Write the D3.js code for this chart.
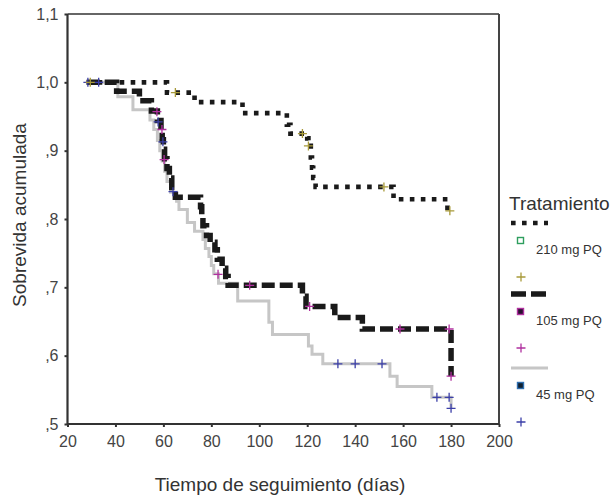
<!DOCTYPE html>
<html><head><meta charset="utf-8">
<script src="https://cdn.jsdelivr.net/npm/d3@7"></script>
<style>
body{margin:0;background:#fff;}
text{font-family:"Liberation Sans",Arial,sans-serif;}
</style></head>
<body><svg id="c" width="615" height="497"></svg>
<script>
// ---- data ----
const groups = ["210 mg PQ", "105 mg PQ", "45 mg PQ"];
const t210 = [28, 61.5, 73, 93, 111.5, 113, 120, 120.5, 121.5, 122, 122.5, 123.5, 156, 178.5, 180];
const s210 = [1.0, 0.985, 0.971, 0.955, 0.938, 0.925, 0.918, 0.907, 0.890, 0.875, 0.860, 0.847, 0.829, 0.812, 0.812];
const t105 = [28, 40.5, 50, 55, 57.5, 59, 59.5, 60, 60.5, 61.5, 62.5, 63.5, 65, 75.5, 76, 76.5, 78, 79.5, 81.5, 82.5, 84.5, 86, 87, 118, 119.5, 131.5, 143, 180];
const s105 = [1.0, 0.987, 0.973, 0.958, 0.944, 0.93, 0.916, 0.902, 0.888, 0.874, 0.86, 0.846, 0.832, 0.818, 0.804, 0.79, 0.776, 0.766, 0.755, 0.741, 0.728, 0.716, 0.703, 0.687, 0.672, 0.656, 0.639, 0.57];
const t45 = [28, 41, 47.3, 54.4, 56, 57.5, 58.5, 59.5, 60.5, 61.5, 63, 65.5, 66.5, 70, 73, 76.5, 77.5, 79, 80, 81, 83, 91, 104, 105.5, 120.5, 122, 126.5, 154.5, 157.5, 172, 180];
const s45 = [1.0, 0.979, 0.96, 0.945, 0.931, 0.915, 0.9, 0.885, 0.87, 0.855, 0.839, 0.826, 0.814, 0.795, 0.782, 0.77, 0.757, 0.745, 0.732, 0.72, 0.706, 0.68, 0.649, 0.631, 0.614, 0.602, 0.588, 0.57, 0.555, 0.539, 0.523];
const cens210 = [[29.5,1.0],[65,0.985],[118,0.925],[120.5,0.907],[152,0.847],[179.5,0.812]];
const cens105 = [[57.3,0.957],[59.4,0.931],[60.3,0.887],[82.8,0.719],[96,0.703],[121,0.672],[158.7,0.639],[179.2,0.639],[180,0.57]];
const cens45 = [[28.5,1.0],[33,1.0],[57.8,0.942],[59.8,0.913],[64,0.84],[132.8,0.588],[140,0.588],[151.2,0.588],[174.1,0.539],[179.2,0.539],[180,0.523]];
const xTicks = [20, 40, 60, 80, 100, 120, 140, 160, 180, 200];
const yTicks = [0.5, 0.6, 0.7, 0.8, 0.9, 1.0, 1.1];
const yTickLabels = [",5", ",6", ",7", ",8", ",9", "1,0", "1,1"];

// ---- layout ----
const svg = d3.select("#c");
const L = 67.5, R = 499, T = 14, B = 424;
const x = d3.scaleLinear().domain([20, 200]).range([L, R]);
const y = d3.scaleLinear().domain([0.5, 1.1]).range([B, T]);

const styles = [
  {stroke:"#1a1a1a", width:4.6, dash:"4.6,6.4", cens:"#a89a3a", sq:"#2e9e5e", sqFill:"none"},
  {stroke:"#1a1a1a", width:5.5, dash:"13,5", cens:"#b0309f", sq:"#b0309f", sqFill:"#2a1030"},
  {stroke:"#c6c6c6", width:3, dash:null, cens:"#3b3fa8", sq:"#2f6fb0", sqFill:"#102030"}
];
const series = [
  {t:t210, s:s210, c:cens210},
  {t:t105, s:s105, c:cens105},
  {t:t45, s:s45, c:cens45}
];

// frame
svg.append("line").attr("x1",L).attr("x2",R).attr("y1",T).attr("y2",T).attr("stroke","#666").attr("stroke-width",2);
svg.append("line").attr("x1",R).attr("x2",R).attr("y1",T).attr("y2",B).attr("stroke","#444").attr("stroke-width",2);

// axes
const xAxis = d3.axisBottom(x).tickValues(xTicks).tickSize(3).tickPadding(9).tickFormat(d3.format("d"));
const gx = svg.append("g").attr("transform",`translate(0,${B})`).call(xAxis);
const yAxis = d3.axisLeft(y).tickValues(yTicks).tickSize(3).tickPadding(6).tickFormat((d,i)=>yTickLabels[i]);
const gy = svg.append("g").attr("transform",`translate(${L},0)`).call(yAxis);
[gx, gy].forEach(g=>{
  g.select(".domain").attr("stroke","#333").attr("stroke-width",2.2);
  g.selectAll(".tick line").attr("stroke","#333").attr("stroke-width",2);
  g.selectAll(".tick text").attr("fill","#444").style("font-size","16px").style("font-family","Liberation Sans, Arial, sans-serif");
});
gx.select(".domain").attr("d", `M${L},0H${R}`);
gy.select(".domain").attr("d", `M0,${B}V${T}`);

// curves (draw gray first, then 105, then 210)
const line = d3.line().x(d=>x(d[0])).y(d=>y(d[1])).curve(d3.curveStepAfter);
[2,1,0].forEach(i=>{
  const sr = series[i], st = styles[i];
  const pts = sr.t.map((t,k)=>[t, sr.s[k]]);
  const p = svg.append("path").attr("d", line(pts)).attr("fill","none")
    .attr("stroke", st.stroke).attr("stroke-width", st.width);
  if (st.dash) p.attr("stroke-dasharray", st.dash);
});

// censor marks
function plus(g, cx, cy, col){
  g.append("path").attr("d",`M${cx-4.5},${cy}H${cx+4.5}M${cx},${cy-4.5}V${cy+4.5}`)
    .attr("stroke",col).attr("stroke-width",1.3).attr("fill","none");
}
[2,1,0].forEach(i=>{
  const g = svg.append("g");
  series[i].c.forEach(d=>plus(g, x(d[0]), y(d[1]), styles[i].cens));
});

// axis titles
svg.append("text").attr("x",280).attr("y",491).attr("text-anchor","middle")
  .attr("fill","#333").style("font-size","19px").text("Tiempo de seguimiento (días)");
svg.append("text").attr("transform","translate(26,215) rotate(-90)").attr("text-anchor","middle")
  .attr("fill","#333").style("font-size","19px").text("Sobrevida acumulada");

// legend
const lg = svg.append("g");
lg.append("text").attr("x",509).attr("y",210).attr("fill","#333").style("font-size","19px").text("Tratamiento");
const legY = [223, 294, 368];
groups.forEach((name,i)=>{
  const st = styles[i], y0 = legY[i];
  const ln = lg.append("line").attr("x1",511).attr("x2",548).attr("y1",y0).attr("y2",y0)
    .attr("stroke",st.stroke).attr("stroke-width",st.width);
  if (st.dash) ln.attr("stroke-dasharray", i===0 ? "4.6,6.4" : "15,5");
  lg.append("rect").attr("x",517.5).attr("y",y0+14.5).attr("width",6).attr("height",6)
    .attr("fill", st.sqFill === "none" ? "none" : st.sqFill).attr("stroke",st.sq).attr("stroke-width",1.4);
  lg.append("text").attr("x",536).attr("y",y0+31).attr("fill","#333").style("font-size","13px").text(name);
  plus(lg, 521, y0+54, st.cens);
});
</script>
</body></html>
